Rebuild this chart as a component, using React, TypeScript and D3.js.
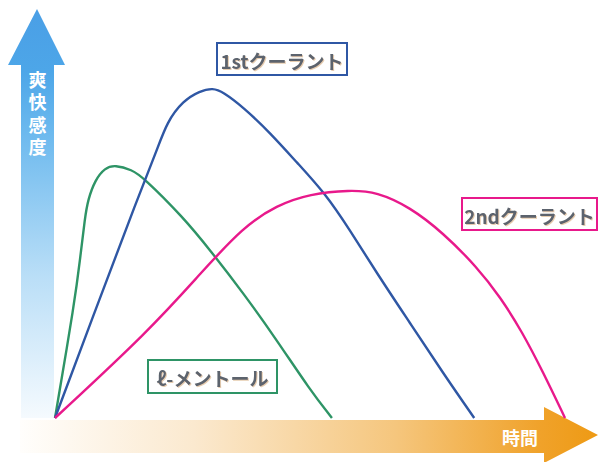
import React from "react";
import * as d3 from "d3";

// ---- data (time 0..100, intensity 0..100) ----
const seriesNames = ["ℓ-メントール", "1stクーラント", "2ndクーラント"];
const mentholTime = [0, 3.92, 4.9, 5.88, 6.47, 7.84, 9.8, 11.76, 15.1, 17.25, 25.1, 30.4, 36.9, 43.5, 50.0, 54.3];
const mentholValue = [0, 35.8, 47.9, 60.9, 66.1, 72.1, 75.8, 76.7, 75.2, 73.0, 60.9, 50.9, 37.9, 23.6, 8.5, 0];
const firstTime = [0, 8.82, 16.08, 20.0, 21.96, 25.1, 28.4, 31.0, 32.9, 36.9, 42.2, 47.5, 52.9, 57.8, 63.1, 69.6, 76.1, 82.2];
const firstValue = [0, 36.4, 66.1, 81.2, 89.7, 96.1, 99.1, 100, 98.8, 94.2, 86.4, 77.3, 68.2, 57.0, 43.9, 28.8, 13.6, 0];
const secondTime = [0, 18.6, 28.4, 36.9, 43.5, 50.0, 57.8, 63.1, 69.6, 76.1, 82.7, 87.3, 91.6, 95.7, 100];
const secondValue = [0, 26.7, 43.6, 57.9, 64.5, 67.9, 69.1, 68.5, 63.9, 56.1, 45.8, 36.7, 26.1, 13.9, 0];
const yTitle = "爽快感度";
const xTitle = "時間";

const W = 599;
const H = 462;
const x = d3.scaleLinear().domain([0, 100]).range([55, 565]);
const y = d3.scaleLinear().domain([0, 100]).range([418, 88]);
const line = d3
  .line<[number, number]>()
  .x((d) => x(d[0]))
  .y((d) => y(d[1]))
  .curve(d3.curveBasis);

const zip = (a: number[], b: number[]) => a.map((v, i) => [v, b[i]] as [number, number]);

const series = [
  { name: seriesNames[0], pts: zip(mentholTime, mentholValue), color: "#2e9466", box: { x: 148, y: 360, w: 129, h: 33 } },
  { name: seriesNames[1], pts: zip(firstTime, firstValue), color: "#2f57a4", box: { x: 217, y: 43, w: 130, h: 32 } },
  { name: seriesNames[2], pts: zip(secondTime, secondValue), color: "#e8198b", box: { x: 462, y: 198, w: 135, h: 32 } },
];

const FONT = "'Noto Sans CJK JP', 'Noto Sans', sans-serif";

export default function App() {
  return (
    <div style={{ position: "absolute", left: 0, top: 0 }}>
      <svg width={W} height={H} viewBox={`0 0 ${W} ${H}`} style={{ display: "block", background: "#fff" }}>
        <defs>
          <linearGradient id="yg" x1="0" y1="418" x2="0" y2="10" gradientUnits="userSpaceOnUse">
            <stop offset="0" stopColor="#f5fafe" />
            <stop offset="0.35" stopColor="#b9def7" />
            <stop offset="0.7" stopColor="#6cb9ee" />
            <stop offset="0.85" stopColor="#4da6e8" />
            <stop offset="1" stopColor="#4a9fe6" />
          </linearGradient>
          <linearGradient id="xg" x1="20" y1="0" x2="598" y2="0" gradientUnits="userSpaceOnUse">
            <stop offset="0" stopColor="#fffefc" />
            <stop offset="0.3" stopColor="#fbe9cf" />
            <stop offset="0.65" stopColor="#f5c67d" />
            <stop offset="0.9" stopColor="#f0a22a" />
            <stop offset="1" stopColor="#ee9a14" />
          </linearGradient>
          <filter id="ts" x="-5%" y="-20%" width="110%" height="140%">
            <feGaussianBlur in="SourceAlpha" stdDeviation="0.6" />
            <feOffset dx="0.5" dy="0.5" result="b" />
            <feFlood floodColor="#c89050" floodOpacity="0.45" />
            <feComposite in2="b" operator="in" />
            <feMerge>
              <feMergeNode />
              <feMergeNode in="SourceGraphic" />
            </feMerge>
          </filter>
        </defs>

        {/* y arrow */}
        <path d="M21,418 L21,65 L8,65 L37,9 L65,65 L54,65 L54,418 Z" fill="url(#yg)" />
        <text
          x={37.5}
          y={71}
          style={{ writingMode: "vertical-rl" as any, letterSpacing: "4.5px" }}
          fontFamily={FONT}
          fontWeight="bold"
          fontSize={18}
          fill="#fff"
        >
          {yTitle}
        </text>

        {/* x arrow */}
        <path d="M20,420 L544,420 L544,407 L598,435 L544,463 L544,453 L20,453 Z" fill="url(#xg)" />
        <text
          x={520}
          y={437}
          textAnchor="middle"
          dominantBaseline="central"
          fontFamily={FONT}
          fontWeight="bold"
          fontSize={18}
          fill="#fff"
        >
          {xTitle}
        </text>

        {/* curves */}
        {series.map((s) => (
          <path key={s.name} d={line(s.pts) || ""} fill="none" stroke={s.color} strokeWidth={2.4} strokeLinejoin="round" />
        ))}

        {/* labels */}
        {series.map((s) => (
          <g key={s.name + "l"}>
            <rect x={s.box.x} y={s.box.y} width={s.box.w} height={s.box.h} fill="#fff" stroke={s.color} strokeWidth={2} />
            <text
              x={s.box.x + s.box.w / 2}
              y={s.box.y + s.box.h / 2 + 1}
              textAnchor="middle"
              dominantBaseline="central"
              fontFamily={FONT}
              fontWeight="bold"
              fontSize={19}
              fill="#5c636d"
              filter="url(#ts)"
            >
              {s.name}
            </text>
          </g>
        ))}
      </svg>
    </div>
  );
}
